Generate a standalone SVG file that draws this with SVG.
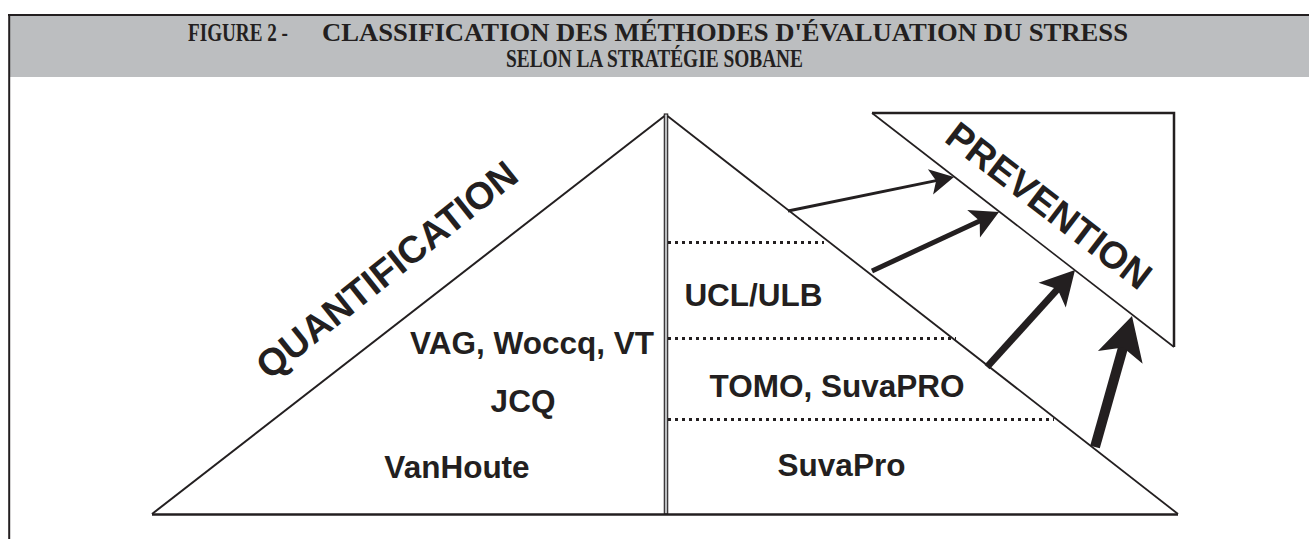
<svg xmlns="http://www.w3.org/2000/svg" xmlns:xlink="http://www.w3.org/1999/xlink" width="1309" height="539" viewBox="0 0 1309 539">
<style>
.ln{stroke:#231f20;fill:none;stroke-linecap:butt}
.dot{stroke:#231f20;stroke-width:3;stroke-dasharray:3 4;fill:none}
.ttl{font-family:"Liberation Serif","Times New Roman",serif;font-weight:bold;font-size:25px;fill:#231f20}
.lbl{font-family:"Liberation Sans",Arial,sans-serif;font-weight:bold;font-size:31.5px;fill:#231f20;text-anchor:middle}
.big{font-family:"Liberation Sans",Arial,sans-serif;font-weight:bold;font-size:38px;fill:#231f20;text-anchor:middle}
.head{fill:#231f20;stroke:none}
</style>
<defs>
<path id="ah" d="M0,0 L-1,-0.54 L-0.76,0 L-1,0.54 Z"/>
</defs>
<rect width="1309" height="539" fill="#ffffff"/>
<g id="header">
<rect x="9" y="15" width="1300" height="62" fill="#bcbec0"/>
<line class="ln" x1="8" y1="15" x2="1309" y2="15" stroke-width="2"/>
<line class="ln" x1="9.2" y1="14" x2="9.2" y2="539" stroke-width="2"/>
<text class="ttl" x="188" y="41" textLength="100" lengthAdjust="spacingAndGlyphs">FIGURE 2 -</text>
<text class="ttl" x="322" y="41" textLength="806" lengthAdjust="spacingAndGlyphs">CLASSIFICATION DES MÉTHODES D'ÉVALUATION DU STRESS</text>
<text class="ttl" x="506" y="67" textLength="297" lengthAdjust="spacingAndGlyphs">SELON LA STRATÉGIE SOBANE</text>
</g>
<g id="quantification">
<line class="ln" x1="152" y1="514" x2="664.5" y2="116" stroke-width="2"/>
<text class="big" transform="translate(395,280) rotate(-38.7)">QUANTIFICATION</text>
<text class="lbl" x="532" y="354">VAG, Woccq, VT</text>
<text class="lbl" x="523" y="412">JCQ</text>
<text class="lbl" x="457" y="478">VanHoute</text>
</g>
<g id="axis">
<rect x="664.3" y="114" width="3.4" height="400" fill="#bcbec0" stroke="#231f20" stroke-width="1.1"/>
<line class="ln" x1="152" y1="514.5" x2="1178" y2="514.5" stroke-width="2.5"/>
</g>
<g id="sobane">
<line class="ln" x1="667.5" y1="116" x2="1178" y2="514" stroke-width="1.8"/>
<line class="dot" x1="668" y1="242.5" x2="824" y2="242.5"/>
<line class="dot" x1="668" y1="338.5" x2="956" y2="338.5"/>
<line class="dot" x1="668" y1="419.5" x2="1054" y2="419.5"/>
<text class="lbl" x="753.5" y="306">UCL/ULB</text>
<text class="lbl" x="837" y="397">TOMO, SuvaPRO</text>
<text class="lbl" x="841.5" y="476">SuvaPro</text>
</g>
<g id="prevention">
<polyline class="ln" points="872,113 1174,113 1174,347" stroke-width="2.5"/>
<line class="ln" x1="872" y1="113" x2="1174" y2="347" stroke-width="1.6"/>
<text class="big" transform="translate(1041,216) rotate(37.5)">PREVENTION</text>
</g>
<g id="connectors">
<line class="ln" x1="788" y1="211" x2="937.3" y2="180.4" stroke-width="3"/>
<use xlink:href="#ah" class="head" transform="translate(954,177) rotate(-11.6) scale(24)"/>
<line class="ln" x1="872" y1="271" x2="981.8" y2="220" stroke-width="5"/>
<use xlink:href="#ah" class="head" transform="translate(999,212) rotate(-24.9) scale(28)"/>
<line class="ln" x1="987" y1="367" x2="1059.5" y2="287" stroke-width="7"/>
<use xlink:href="#ah" class="head" transform="translate(1075,270) rotate(-47.8) scale(34)"/>
<line class="ln" x1="1095" y1="447" x2="1123.8" y2="344.9" stroke-width="10"/>
<use xlink:href="#ah" class="head" transform="translate(1132,316) rotate(-74.2) scale(43)"/>
</g>
</svg>
